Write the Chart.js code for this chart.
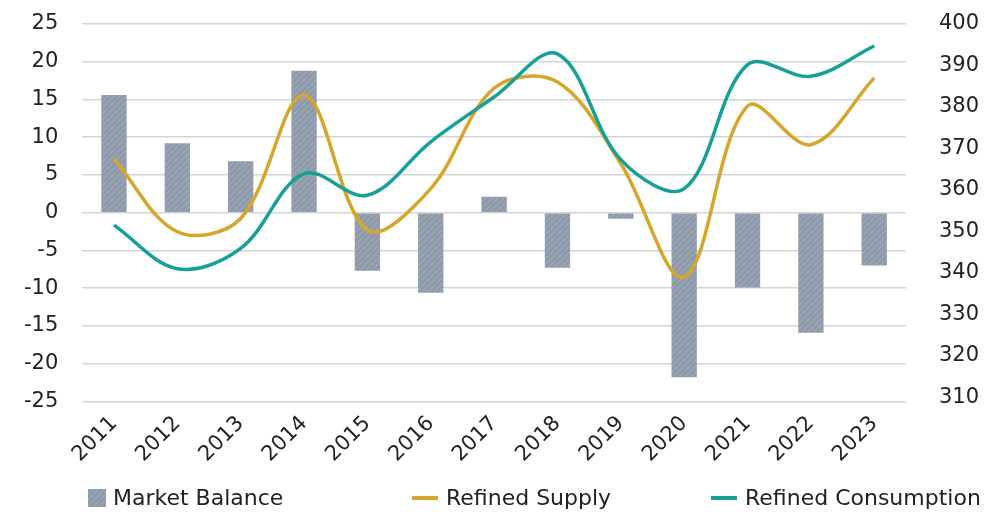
<!DOCTYPE html>
<html>
<head>
<meta charset="utf-8">
<script src="https://cdn.jsdelivr.net/npm/chart.js@4.4.0/dist/chart.umd.min.js"></script>
<style>
html,body{margin:0;padding:0;background:#ffffff;}
#wrap{position:relative;width:1008px;height:514px;}
</style>
</head>
<body>
<div id="wrap"><canvas id="chart"></canvas></div>
<script>
const categories = ['2011','2012','2013','2014','2015','2016','2017','2018','2019','2020','2021','2022','2023'];
const marketBalance = [15.6, 9.2, 6.8, 18.8, -7.7, -10.6, 2.1, -7.3, -0.8, -21.8, -9.9, -15.9, -7.0];
const refinedSupply = [367.5, 349.9, 353.1, 382.8, 350.3, 360.3, 384.5, 386.0, 366.3, 339.0, 380.2, 370.9, 387.0];
const refinedConsumption = [351.5, 341.0, 345.9, 363.9, 358.7, 371.6, 382.4, 392.8, 367.3, 360.3, 390.2, 387.4, 394.7];
const leftTicks = [-25, -20, -15, -10, -5, 0, 5, 10, 15, 20, 25];
const rightTicks = [310, 320, 330, 340, 350, 360, 370, 380, 390, 400];
const seriesNames = ['Market Balance', 'Refined Supply', 'Refined Consumption'];

const FONT = 'DejaVu Sans';
const FSIZE = 21;
const LEGEND_FSIZE = 22;
const TEXT = '#222222';
const GOLD = '#D6A62B';
const TEAL = '#17A095';
const BAR_BASE = '#8F9BAA';
const BAR_HATCH = '#A4AEBA';
const CLEAR = 'rgba(0,0,0,0)';

function makeHatchCanvas(w, h) {
  const c = document.createElement('canvas');
  c.width = w; c.height = h;
  const x = c.getContext('2d');
  x.fillStyle = BAR_BASE;
  x.fillRect(0, 0, w, h);
  x.strokeStyle = BAR_HATCH;
  x.lineWidth = 1;
  x.beginPath();
  for (let k = -h; k < w + h; k += 6) {
    x.moveTo(k, h);
    x.lineTo(k + h, 0);
  }
  x.stroke();
  return c;
}
const patCanvas = makeHatchCanvas(6, 6);
const hatchPattern = patCanvas.getContext('2d').createPattern(patCanvas, 'repeat');

// legend drawn on the canvas as real text, placed like the reference
const legendItems = [
  { text: seriesNames[0], kind: 'box', color: BAR_BASE, x: 88 },
  { text: seriesNames[1], kind: 'line', color: GOLD, x: 412 },
  { text: seriesNames[2], kind: 'line', color: TEAL, x: 711 }
];
const customLegend = {
  id: 'customLegend',
  afterDraw(chart) {
    const c = chart.ctx;
    const cy = 498;
    c.save();
    c.font = LEGEND_FSIZE + 'px "' + FONT + '"';
    c.textBaseline = 'middle';
    c.textAlign = 'left';
    legendItems.forEach(it => {
      if (it.kind === 'box') {
        c.fillStyle = hatchPattern;
        c.fillRect(it.x, cy - 9, 18, 18);
        c.fillStyle = TEXT;
        c.fillText(it.text, it.x + 25, cy + 1);
      } else {
        c.fillStyle = it.color;
        c.fillRect(it.x, cy - 2, 26, 4);
        c.fillStyle = TEXT;
        c.fillText(it.text, it.x + 34, cy + 1);
      }
    });
    c.restore();
  }
};

const ctx = document.getElementById('chart').getContext('2d');
new Chart(ctx, {
  data: {
    labels: categories,
    datasets: [
      {
        type: 'bar',
        label: seriesNames[0],
        data: marketBalance,
        backgroundColor: hatchPattern,
        borderWidth: 0,
        yAxisID: 'y',
        barPercentage: 0.4,
        categoryPercentage: 1.0,
        order: 3
      },
      {
        type: 'line',
        label: seriesNames[1],
        data: refinedSupply,
        borderColor: GOLD,
        backgroundColor: GOLD,
        borderWidth: 3.5,
        pointRadius: 0,
        tension: 0.35,
        fill: false,
        yAxisID: 'y1',
        order: 2
      },
      {
        type: 'line',
        label: seriesNames[2],
        data: refinedConsumption,
        borderColor: TEAL,
        backgroundColor: TEAL,
        borderWidth: 3.5,
        pointRadius: 0,
        tension: 0.35,
        fill: false,
        yAxisID: 'y1',
        order: 1
      }
    ]
  },
  plugins: [customLegend],
  options: {
    responsive: true,
    maintainAspectRatio: false,
    animation: false,
    layout: { padding: { left: 22, right: 27, top: 24, bottom: 45 } },
    plugins: {
      tooltip: { enabled: false },
      legend: { display: false }
    },
    scales: {
      x: {
        grid: { display: false },
        border: { display: false },
        ticks: {
          color: TEXT,
          font: { family: FONT, size: FSIZE },
          maxRotation: 45,
          minRotation: 45,
          autoSkip: false,
          padding: 2
        }
      },
      y: {
        position: 'left',
        min: -25,
        max: 25,
        afterBuildTicks: function (scale) { scale.ticks = leftTicks.map(v => ({ value: v })); },
        grid: { color: '#D4D4D4', lineWidth: 1.5, drawTicks: true, tickLength: 22, tickColor: CLEAR },
        border: { display: false },
        ticks: { color: TEXT, font: { family: FONT, size: FSIZE }, padding: 2, autoSkip: false }
      },
      y1: {
        position: 'right',
        min: 309,
        max: 400,
        afterBuildTicks: function (scale) { scale.ticks = rightTicks.map(v => ({ value: v })); },
        grid: { drawOnChartArea: false, drawTicks: true, tickLength: 31, tickColor: CLEAR },
        border: { display: false },
        ticks: { color: TEXT, font: { family: FONT, size: FSIZE }, padding: 2, autoSkip: false }
      }
    }
  }
});
</script>
</body>
</html>
